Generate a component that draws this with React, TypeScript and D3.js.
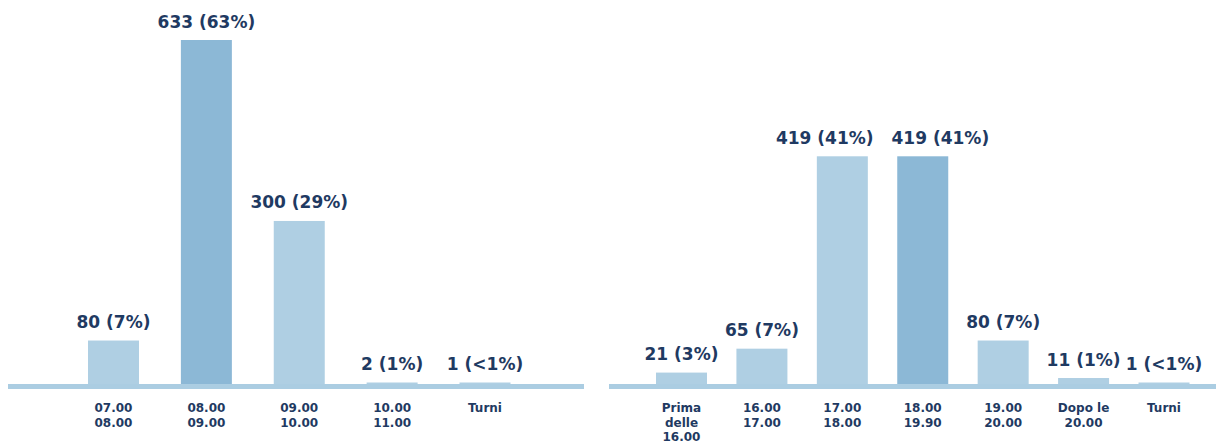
import React, { useEffect, useRef } from 'react'
import * as d3 from 'd3'

// Arrivals (left) and departures (right) by time slot
const arrivalLabels = [['07.00', '08.00'], ['08.00', '09.00'], ['09.00', '10.00'], ['10.00', '11.00'], ['Turni']];
const arrivalValues = [80, 633, 300, 2, 1];
const arrivalShares = ['7%', '63%', '29%', '1%', '<1%'];
const arrivalPeak = 1;

const departureLabels = [['Prima', 'delle', '16.00'], ['16.00', '17.00'], ['17.00', '18.00'], ['18.00', '19.90'], ['19.00', '20.00'], ['Dopo le', '20.00'], ['Turni']];
const departureValues = [21, 65, 419, 419, 80, 11, 1];
const departureShares = ['3%', '7%', '41%', '41%', '7%', '1%', '<1%'];
const departurePeak = 3;

const WIDTH = 1216;
const HEIGHT = 435;
const BASE = 376; // top of the axis band
const BAR_W = 51;
const LIGHT = '#afcfe3';
const DARK = '#8cb8d6';
const BAND = '#abcde2';
const INK = '#1f3a62';
const FONT = '"DejaVu Sans", Verdana, sans-serif';
const VALUE_SIZE = 17;

// rough DejaVu Sans Bold advance widths (em)
const charWidth = (c: string) => {
  if (/[0-9]/.test(c)) return 0.696;
  if (c === ' ') return 0.348;
  if (c === '(' || c === ')') return 0.457;
  if (c === '%') return 1.002;
  if (c === '<') return 0.838;
  return 0.7;
};
const textWidth = (s: string) => s.split('').reduce((a, c) => a + charWidth(c), 0) * VALUE_SIZE;

export default function App() {
  const svgRef = useRef<SVGSVGElement>(null);

  useEffect(() => {
    if (!svgRef.current) return;
    const svg = d3.select(svgRef.current);
    svg.selectAll('*').remove();

    const y = d3.scaleLinear().domain([0, 633]).range([0, 344]);
    const barH = (v: number) => Math.max(y(v), 1.5);

    const panels = [
      { labels: arrivalLabels, values: arrivalValues, shares: arrivalShares, peak: arrivalPeak, band: [0, 576], centers: [105.5, 477] },
      { labels: departureLabels, values: departureValues, shares: departureShares, peak: departurePeak, band: [601, 1216], centers: [673.5, 1156] }
    ];

    panels.forEach(p => {
      const idx = p.values.map((_, i) => i);
      const x = d3.scalePoint<number>().domain(idx).range(p.centers as [number, number]);
      const cx = (i: number) => x(i)!;
      const g = svg.append('g');

      // bars
      g.selectAll('rect.bar')
        .data(idx)
        .enter()
        .append('rect')
        .attr('class', 'bar')
        .attr('x', i => cx(i) - BAR_W / 2)
        .attr('y', i => BASE - barH(p.values[i]))
        .attr('width', BAR_W)
        .attr('height', i => barH(p.values[i]) + 2)
        .attr('fill', i => i === p.peak ? DARK : LIGHT);

      // axis band
      g.append('rect')
        .attr('x', p.band[0])
        .attr('y', BASE)
        .attr('width', p.band[1] - p.band[0])
        .attr('height', 5)
        .attr('fill', BAND);

      // value labels; overlapping ones on the same row are pushed apart
      const texts = idx.map(i => `${p.values[i]} (${p.shares[i]})`);
      const widths = texts.map(textWidth);
      const ys = idx.map(i => BASE - barH(p.values[i]) - 12.5);
      const pos = idx.map(i => cx(i));
      for (let i = 0; i < pos.length - 1; i++) {
        if (Math.abs(ys[i] - ys[i + 1]) > 20) continue;
        const gap = (pos[i + 1] - widths[i + 1] / 2) - (pos[i] + widths[i] / 2);
        if (gap < 0) {
          const d = (18 - gap) / 2;
          pos[i] -= d;
          pos[i + 1] += d;
        }
      }

      g.selectAll('text.value')
        .data(idx)
        .enter()
        .append('text')
        .attr('class', 'value')
        .attr('x', i => pos[i])
        .attr('y', i => ys[i])
        .attr('text-anchor', 'middle')
        .attr('font-family', FONT)
        .attr('font-weight', 'bold')
        .attr('font-size', `${VALUE_SIZE}px`)
        .attr('fill', INK)
        .text(i => texts[i]);

      // category labels
      const ticks = g.selectAll('text.tick')
        .data(idx)
        .enter()
        .append('text')
        .attr('class', 'tick')
        .attr('x', i => cx(i))
        .attr('y', 404)
        .attr('text-anchor', 'middle')
        .attr('font-family', FONT)
        .attr('font-weight', 'bold')
        .attr('font-size', '12px')
        .attr('fill', INK);

      ticks.each(function (i) {
        const t = d3.select(this);
        p.labels[i].forEach((line, k) => {
          t.append('tspan')
            .attr('x', cx(i))
            .attr('dy', k === 0 ? 0 : 14.5)
            .text(line);
        });
      });
    });
  }, []);

  return (
    <svg ref={svgRef} width={WIDTH} height={HEIGHT} style={{ display: 'block', overflow: 'visible' }} />
  );
}
